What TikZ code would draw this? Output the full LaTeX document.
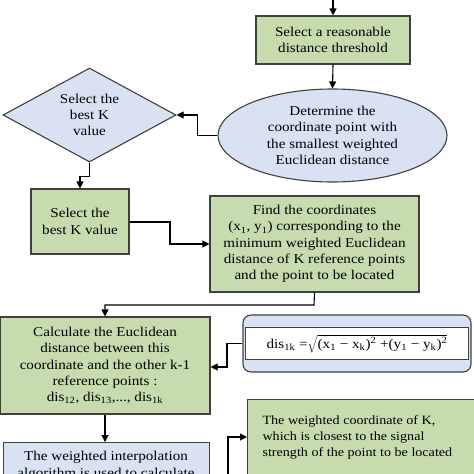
\documentclass[tikz,border=0pt]{standalone}
\usepackage{fontspec}
\setmainfont{Liberation Serif}[FakeStretch=1.12]
\usetikzlibrary{shapes.geometric,arrows.meta}
\definecolor{boxgreen}{RGB}{198,220,175}
\definecolor{boxblue}{RGB}{216,226,242}
\definecolor{edge}{RGB}{64,64,64}
\tikzset{
  base/.style={draw=edge, line width=1.1pt, font=\fontsize{13.5}{16.3}\selectfont, align=center, inner sep=0pt},
  greenbox/.style={base, fill=boxgreen, rectangle},
  bluebox/.style={base, fill=boxblue, rectangle},
  conn/.style={line width=1.1pt, draw=black, -{Triangle[length=7pt,width=7pt]}},
}
\begin{document}
\begin{tikzpicture}[x=1pt,y=-1pt]
\useasboundingbox (0,0) rectangle (474,474);
\clip (0,0) rectangle (474,474);
\node[greenbox, minimum width=154pt, minimum height=48pt] (t1) at (333,40) {Select a reasonable\\distance threshold};
\node[base, fill=boxblue, ellipse, minimum width=229pt, minimum height=93pt] (e1) at (332.5,135.5) {Determine the\\coordinate point with\\the smallest weighted\\Euclidean distance};
\node[base, fill=boxblue, diamond, aspect=1.84, minimum width=173pt, minimum height=94pt] (d1) at (89.5,115) {Select the\\best K\\value};
\node[greenbox, minimum width=98pt, minimum height=65pt] (b1) at (80,221.5) {Select the\\best K value};
\node[greenbox, minimum width=209pt, minimum height=96pt] (b2) at (314.5,244) {Find the coordinates\\(x\textsubscript{1}, y\textsubscript{1}) corresponding to the\\minimum weighted Euclidean\\distance of K reference points\\and the point to be located};
\node[greenbox, minimum width=210pt, minimum height=97pt] (b3) at (105,365.5) {Calculate the Euclidean\\distance between this\\coordinate and the other k-1\\reference points :\\dis\textsubscript{12}, dis\textsubscript{13},..., dis\textsubscript{1k}};
\node[bluebox, rounded corners=8pt, minimum width=228pt, minimum height=57pt] (f0) at (357,343.5) {};
\node[base, fill=white, line width=1.4pt, minimum width=223pt, minimum height=32pt] (f1) at (f0.center) {dis\textsubscript{1k} =$\sqrt{\hbox{(x\textsubscript{1} − x\textsubscript{k})\textsuperscript{2} +(y\textsubscript{1} − y\textsubscript{k})\textsuperscript{2}}}$};
\node[bluebox, minimum width=206pt, minimum height=60pt, anchor=north west] (b4) at (3,442) {};
\node[base, anchor=north, draw=none] (b4t) at (106,451) {The weighted interpolation\\algorithm is used to calculate};
\node[greenbox, minimum width=240pt, minimum height=90pt, anchor=north west] (b5) at (247,399) {};
\node[base, font=\fontsize{12.6}{15.8}\selectfont, align=left, anchor=north west, draw=none] (b5t) at (262,415) {The weighted coordinate of K,\\which is closest to the signal\\strength of the point to be located};
\coordinate (s0) at (333,-2);
\coordinate (s9) at (228,480);
\draw[conn] (s0) -- (t1.north);
\draw[conn] (t1.south) -- (e1.north);
\draw[conn] (e1.west) -- ++(-20,0) |- (d1.east);
\draw[conn] (d1.south) -- ++(0,14) -| (b1.north);
\draw[conn] (b1.east |- 0,222) -- (170,222) |- (b2.west);
\draw[conn] (b2.south) -- (314,305) -| (b3.north);
\draw[conn] (f0.west) -- (227,343.5) |- (b3.east |- 0,367);
\draw[conn] (b3.south) -- (b4.north -| b3.south);
\draw[conn] (s9) |- (b5.west |- 0,437);
\end{tikzpicture}
\end{document}
